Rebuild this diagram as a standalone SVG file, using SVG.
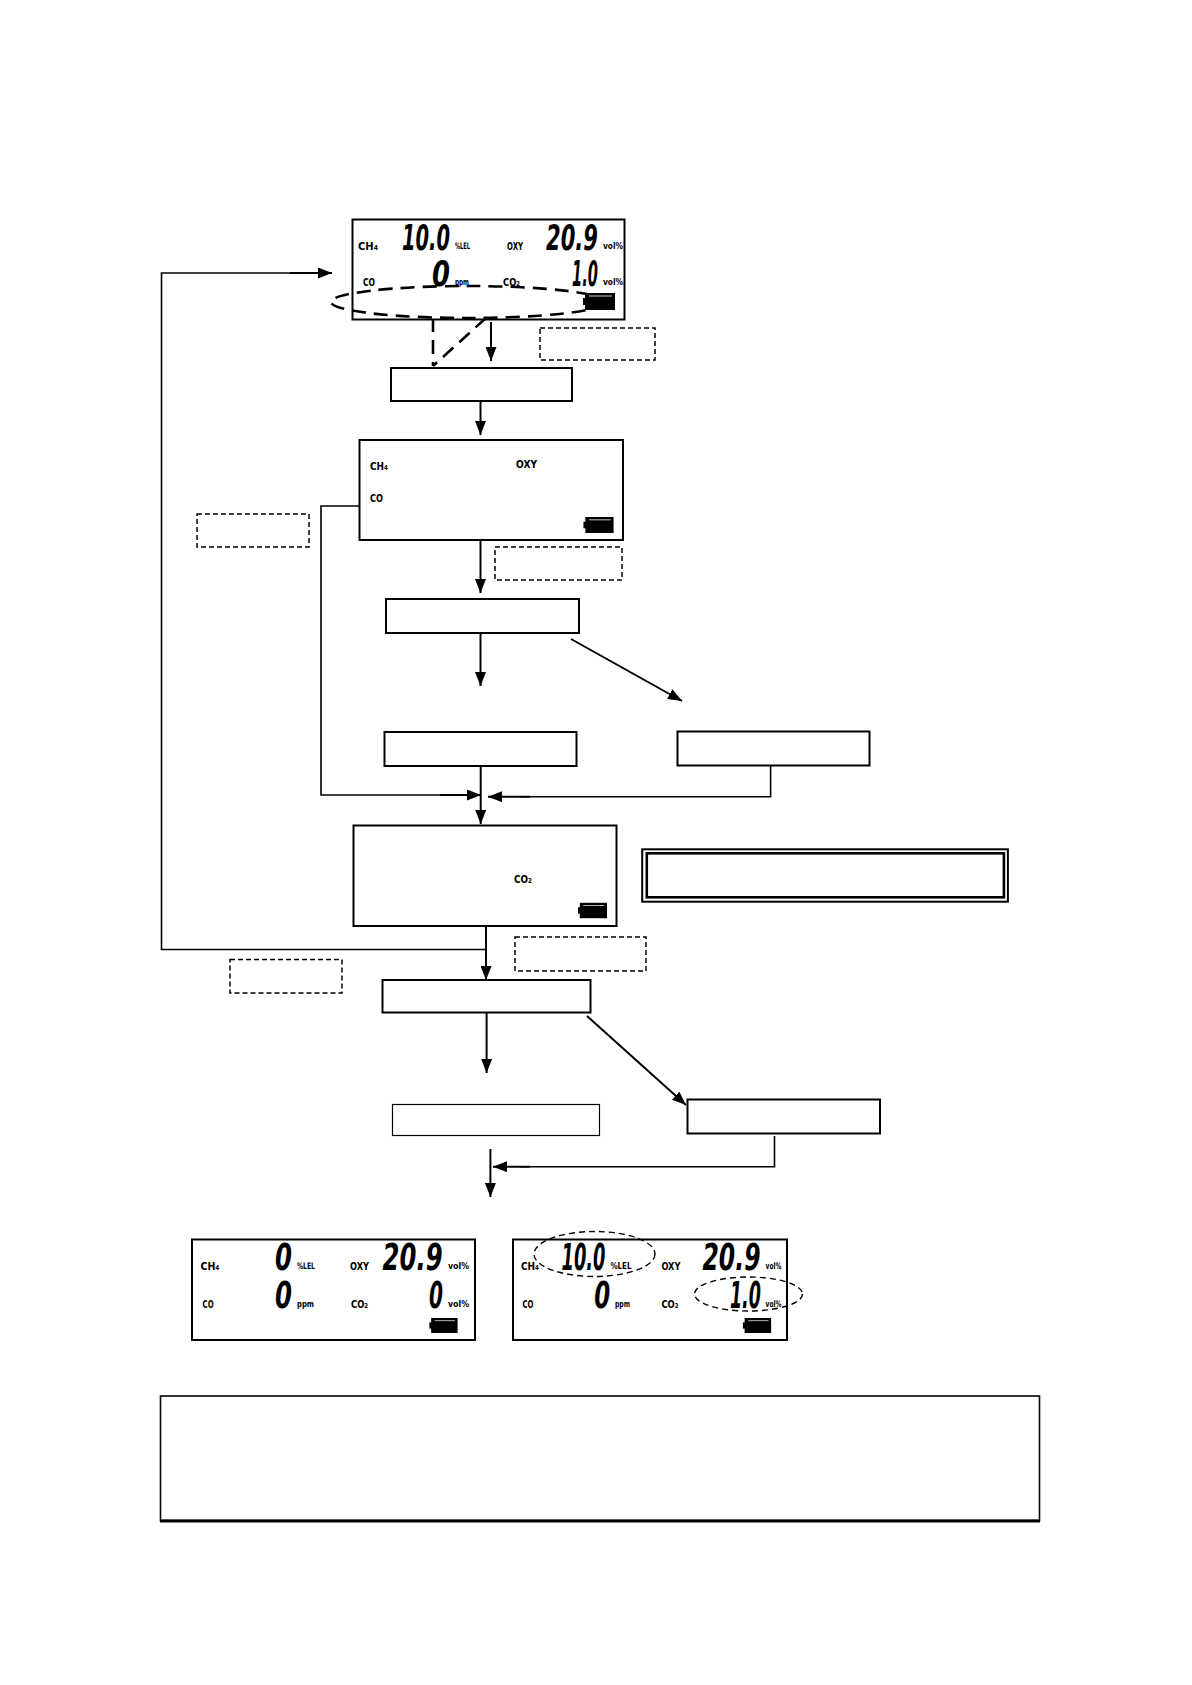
<svg xmlns="http://www.w3.org/2000/svg" xmlns:xlink="http://www.w3.org/1999/xlink" width="1192" height="1685" viewBox="0 0 1192 1685">
<style>
.box{fill:#fff;stroke:#000;stroke-width:2}
.thin{fill:#fff;stroke:#000;stroke-width:1.2}
.dbox{fill:none;stroke:#000;stroke-width:1.5;stroke-dasharray:5 3}
.lcd{fill:#fff;stroke:#000;stroke-width:2}
.dig{font-family:"DejaVu Sans",sans-serif;font-weight:bold;font-style:italic;fill:#000}
.lab{font-family:"DejaVu Sans",sans-serif;font-weight:bold;font-size:11px;fill:#000}
.unit{font-family:"DejaVu Sans",sans-serif;font-weight:bold;font-size:9px;fill:#000}
.ar{fill:none;stroke:#000;stroke-width:2;marker-end:url(#ah)}
.ln{fill:none;stroke:#000;stroke-width:1.6}
.dash{fill:none;stroke:#000;stroke-width:2.6;stroke-dasharray:14 8}
.dell{fill:none;stroke:#000;stroke-width:1.4;stroke-dasharray:6 4}
</style>
<defs>
<marker id="ah" markerUnits="userSpaceOnUse" markerWidth="14" markerHeight="11" refX="14" refY="5.5" orient="auto" viewBox="0 0 14 11">
<path d="M0,0 L14,5.5 L0,11 z" fill="#000"/>
</marker>
<symbol id="batt" viewBox="0 0 32 17">
<rect x="2" y="0" width="30" height="17" fill="#000"/>
<rect x="0" y="5" width="3" height="7" fill="#000"/>
<line x1="6" y1="3" x2="29" y2="3" stroke="#fff" stroke-width="0.8"/>
</symbol>
</defs>
<rect width="1192" height="1685" fill="#fff"/>

<g id="connectors">
<line class="ar" x1="491" y1="322" x2="491" y2="361"/>
<line class="ar" x1="480.5" y1="401" x2="480.5" y2="435"/>
<line class="ar" x1="480.5" y1="541" x2="480.5" y2="593"/>
<line class="ar" x1="480.5" y1="634" x2="480.5" y2="686"/>
<line class="ar" x1="571" y1="639" x2="682" y2="701"/>
<line class="ar" x1="480.7" y1="766" x2="480.7" y2="824"/>
<polyline class="ln" points="362,506 321,506 321,795 470,795"/>
<line class="ar" x1="440" y1="795" x2="481" y2="795"/>
<polyline class="ln" points="770.6,765.5 770.6,796.7 520,796.7"/>
<line class="ar" x1="530" y1="796.7" x2="488" y2="796.7"/>
<polyline class="ln" points="486,949.5 161.5,949.5 161.5,273 300,273"/>
<line class="ar" x1="290" y1="273" x2="332" y2="273"/>
<line class="ar" x1="486" y1="926" x2="486" y2="980"/>
<line class="ar" x1="486.6" y1="1013" x2="486.6" y2="1073"/>
<line class="ar" x1="587" y1="1016" x2="686" y2="1105"/>
<polyline class="ln" points="774.5,1136 774.5,1166.7 520,1166.7"/>
<line class="ar" x1="530" y1="1166.7" x2="493" y2="1166.7"/>
<line class="ar" x1="490.4" y1="1149" x2="490.4" y2="1197"/>
<line class="dash" x1="433" y1="318" x2="433" y2="366"/>
<line class="dash" x1="486" y1="318" x2="433" y2="366"/>
</g>

<g id="lcd1">
<rect class="lcd" x="352.5" y="219.5" width="272" height="100"/>
<text class="lab" transform="translate(358,250) scale(0.897,1)" textLength="22.3" lengthAdjust="spacingAndGlyphs">CH₄</text>
<text class="dig" font-size="36" transform="translate(402,250) scale(0.54,1)" textLength="88.9" lengthAdjust="spacingAndGlyphs">10.0</text>
<text class="unit" transform="translate(455,249) scale(0.564,1)" textLength="26.6" lengthAdjust="spacingAndGlyphs">%LEL</text>
<text class="lab" transform="translate(507,250) scale(0.629,1)" textLength="25.45" lengthAdjust="spacingAndGlyphs">OXY</text>
<text class="dig" font-size="36" transform="translate(546,250) scale(0.585,1)" textLength="88.9" lengthAdjust="spacingAndGlyphs">20.9</text>
<text class="unit" transform="translate(603,249) scale(0.828,1)" textLength="24.2" lengthAdjust="spacingAndGlyphs">vol%</text>
<text class="lab" transform="translate(363,286) scale(0.69,1)" textLength="17.4" lengthAdjust="spacingAndGlyphs">CO</text>
<text class="dig" font-size="36" transform="translate(432,286) scale(0.718,1)" textLength="25.06" lengthAdjust="spacingAndGlyphs">0</text>
<text class="unit" transform="translate(455,285) scale(0.628,1)" textLength="22.3" lengthAdjust="spacingAndGlyphs">ppm</text>
<text class="lab" transform="translate(503,286) scale(0.756,1)" textLength="22.5" lengthAdjust="spacingAndGlyphs">CO₂</text>
<text class="dig" font-size="36" transform="translate(572,286) scale(0.407,1)" textLength="63.8" lengthAdjust="spacingAndGlyphs">1.0</text>
<text class="unit" transform="translate(603,285) scale(0.828,1)" textLength="24.2" lengthAdjust="spacingAndGlyphs">vol%</text>
<ellipse class="dash" cx="468" cy="302" rx="137" ry="16"/>
<use xlink:href="#batt" href="#batt" x="583" y="293" width="32" height="17"/>
</g>

<g id="note1"><rect class="dbox" x="540" y="328" width="115" height="32"/></g>
<g id="box2"><rect class="box" x="391" y="368" width="181" height="33" stroke-width="1.6"/></g>

<g id="lcd2">
<rect class="lcd" x="359.5" y="440" width="263.5" height="100"/>
<text class="lab" font-size="12" transform="translate(370,470) scale(0.738,1)" textLength="24.4" lengthAdjust="spacingAndGlyphs">CH₄</text>
<text class="lab" font-size="12" transform="translate(516,468) scale(0.756,1)" textLength="27.8" lengthAdjust="spacingAndGlyphs">OXY</text>
<text class="lab" font-size="12" transform="translate(370,502) scale(0.684,1)" textLength="19" lengthAdjust="spacingAndGlyphs">CO</text>
<use xlink:href="#batt" href="#batt" x="583" y="517" width="31" height="16"/>
</g>

<g id="note2"><rect class="dbox" x="197" y="514" width="112" height="33"/></g>
<g id="note3"><rect class="dbox" x="495" y="547" width="127" height="33"/></g>
<g id="box3"><rect class="box" x="386" y="599" width="193" height="34"/></g>
<g id="box4l"><rect class="box" x="384.5" y="732" width="192" height="34"/></g>
<g id="box4r"><rect class="box" x="677.5" y="731.5" width="192" height="34" stroke-width="1.6"/></g>

<g id="lcd3">
<rect class="lcd" x="353.5" y="825.5" width="263" height="100.5"/>
<text class="lab" font-size="12" transform="translate(514,883) scale(0.735,1)" textLength="24.5" lengthAdjust="spacingAndGlyphs">CO₂</text>
<use xlink:href="#batt" href="#batt" x="578" y="902" width="29" height="17"/>
</g>

<g id="dblbox">
<rect x="642.2" y="849.3" width="365.7" height="52.4" fill="#fff" stroke="#000" stroke-width="2"/>
<rect x="646.8" y="853.3" width="357.1" height="44" fill="none" stroke="#000" stroke-width="2.6"/>
</g>

<g id="note4"><rect class="dbox" x="515" y="937" width="131" height="34"/></g>
<g id="note5"><rect class="dbox" x="230" y="959.5" width="112" height="33.5"/></g>
<g id="box5"><rect class="box" x="382.5" y="980" width="208" height="32.5"/></g>
<g id="box6l"><rect class="thin" x="392.5" y="1104.5" width="207" height="31"/></g>
<g id="box6r"><rect class="box" x="687.5" y="1099.5" width="192.5" height="34"/></g>

<g id="lcd4">
<rect class="lcd" x="192" y="1239.5" width="283" height="100.5" stroke-width="1.6"/>
<text class="lab" transform="translate(200.5,1270) scale(0.852,1)" textLength="22.3" lengthAdjust="spacingAndGlyphs">CH₄</text>
<text class="dig" font-size="37" transform="translate(275,1270) scale(0.66,1)" textLength="25.75" lengthAdjust="spacingAndGlyphs">0</text>
<text class="unit" transform="translate(297,1269) scale(0.677,1)" textLength="26.6" lengthAdjust="spacingAndGlyphs">%LEL</text>
<text class="lab" transform="translate(350,1270) scale(0.747,1)" textLength="25.45" lengthAdjust="spacingAndGlyphs">OXY</text>
<text class="dig" font-size="37" transform="translate(382.6,1270) scale(0.656,1)" textLength="91.4" lengthAdjust="spacingAndGlyphs">20.9</text>
<text class="unit" transform="translate(448,1269) scale(0.868,1)" textLength="24.2" lengthAdjust="spacingAndGlyphs">vol%</text>
<text class="lab" transform="translate(202.6,1308) scale(0.632,1)" textLength="17.4" lengthAdjust="spacingAndGlyphs">CO</text>
<text class="dig" font-size="37" transform="translate(275,1308) scale(0.66,1)" textLength="25.75" lengthAdjust="spacingAndGlyphs">0</text>
<text class="unit" transform="translate(297,1307) scale(0.762,1)" textLength="22.3" lengthAdjust="spacingAndGlyphs">ppm</text>
<text class="lab" transform="translate(351,1308) scale(0.756,1)" textLength="22.5" lengthAdjust="spacingAndGlyphs">CO₂</text>
<text class="dig" font-size="37" transform="translate(429,1308) scale(0.544,1)" textLength="25.75" lengthAdjust="spacingAndGlyphs">0</text>
<text class="unit" transform="translate(448,1307) scale(0.868,1)" textLength="24.2" lengthAdjust="spacingAndGlyphs">vol%</text>
<use xlink:href="#batt" href="#batt" x="428" y="1318" width="31" height="15"/>
</g>

<g id="lcd5">
<rect class="lcd" x="513" y="1239.5" width="274" height="100.5"/>
<text class="lab" transform="translate(521,1270) scale(0.807,1)" textLength="22.3" lengthAdjust="spacingAndGlyphs">CH₄</text>
<text class="dig" font-size="37" transform="translate(561.5,1270) scale(0.481,1)" textLength="91.4" lengthAdjust="spacingAndGlyphs">10.0</text>
<text class="unit" transform="translate(610.5,1269) scale(0.789,1)" textLength="26.6" lengthAdjust="spacingAndGlyphs">%LEL</text>
<text class="lab" transform="translate(661.4,1270) scale(0.747,1)" textLength="25.45" lengthAdjust="spacingAndGlyphs">OXY</text>
<text class="dig" font-size="37" transform="translate(702.5,1270) scale(0.635,1)" textLength="91.4" lengthAdjust="spacingAndGlyphs">20.9</text>
<text class="unit" transform="translate(765.5,1269) scale(0.661,1)" textLength="24.2" lengthAdjust="spacingAndGlyphs">vol%</text>
<text class="lab" transform="translate(522.5,1308) scale(0.632,1)" textLength="17.4" lengthAdjust="spacingAndGlyphs">CO</text>
<text class="dig" font-size="37" transform="translate(594.3,1308) scale(0.621,1)" textLength="25.75" lengthAdjust="spacingAndGlyphs">0</text>
<text class="unit" transform="translate(615,1307) scale(0.673,1)" textLength="22.3" lengthAdjust="spacingAndGlyphs">ppm</text>
<text class="lab" transform="translate(661.4,1308) scale(0.756,1)" textLength="22.5" lengthAdjust="spacingAndGlyphs">CO₂</text>
<text class="dig" font-size="37" transform="translate(729.9,1308) scale(0.473,1)" textLength="65.6" lengthAdjust="spacingAndGlyphs">1.0</text>
<text class="unit" transform="translate(765.5,1307) scale(0.661,1)" textLength="24.2" lengthAdjust="spacingAndGlyphs">vol%</text>
<use xlink:href="#batt" href="#batt" x="741" y="1318" width="32" height="15"/>
<ellipse class="dell" cx="594.5" cy="1254" rx="60.5" ry="22.5"/>
<ellipse class="dell" cx="748.5" cy="1294" rx="54" ry="17"/>
</g>

<g id="bottombox">
<rect x="160.5" y="1396" width="879" height="124.5" fill="#fff" stroke="#000" stroke-width="1.6"/>
<line x1="160" y1="1521" x2="1040" y2="1521" stroke="#000" stroke-width="3"/>
</g>
</svg>
